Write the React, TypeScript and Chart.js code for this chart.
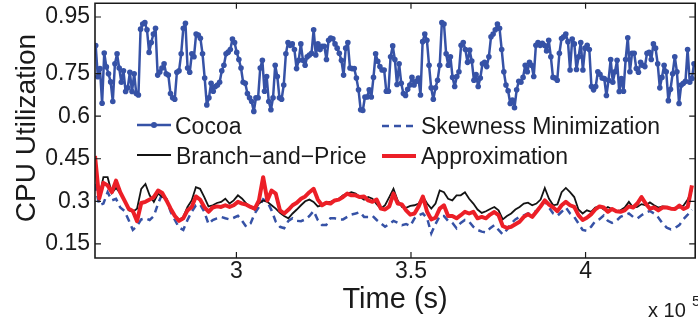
import React, { useEffect, useRef } from "react";
import { Chart, registerables } from "chart.js";

Chart.register(...registerables);

// ---- data ----
const COCOA_T0 = 259700; // seconds
const COCOA_DT = 612;
const COCOA = [
  0.849, 0.739, 0.768, 0.646, 0.823, 0.774, 0.75, 0.721, 0.652, 0.785,
  0.82, 0.77, 0.72, 0.76, 0.687, 0.7, 0.755, 0.687, 0.75, 0.68,
  0.675, 0.907, 0.925, 0.93, 0.905, 0.825, 0.86, 0.89, 0.91, 0.745,
  0.756, 0.77, 0.785, 0.75, 0.745, 0.68, 0.665, 0.66, 0.755, 0.76,
  0.82, 0.91, 0.928, 0.77, 0.755, 0.82, 0.81, 0.89, 0.886, 0.875,
  0.82, 0.735, 0.64, 0.665, 0.716, 0.688, 0.705, 0.71, 0.72, 0.76,
  0.78, 0.82, 0.826, 0.835, 0.872, 0.86, 0.825, 0.8, 0.77, 0.72,
  0.716, 0.68, 0.665, 0.652, 0.617, 0.665, 0.665, 0.77, 0.797, 0.688,
  0.74, 0.652, 0.623, 0.665, 0.78, 0.74, 0.665, 0.66, 0.71, 0.82,
  0.86, 0.85, 0.855, 0.835, 0.768,
  0.797, 0.855, 0.797, 0.78, 0.81, 0.816, 0.822, 0.905, 0.816, 0.855,
  0.835, 0.847, 0.847, 0.8, 0.868, 0.876, 0.873, 0.855, 0.84, 0.822,
  0.797, 0.745, 0.84, 0.86, 0.77, 0.768, 0.768, 0.735, 0.693, 0.623,
  0.62, 0.668, 0.668, 0.693, 0.668, 0.737, 0.82, 0.794, 0.775, 0.763,
  0.763, 0.688, 0.688, 0.81, 0.848, 0.8, 0.712, 0.785, 0.716, 0.68,
  0.673, 0.695, 0.71, 0.737, 0.71, 0.723, 0.735, 0.675, 0.863, 0.89,
  0.868, 0.78, 0.7, 0.66, 0.7, 0.727, 0.78, 0.93, 0.925, 0.82,
  0.78, 0.81, 0.737, 0.705, 0.74, 0.757, 0.85, 0.86, 0.835, 0.79,
  0.833, 0.795, 0.727, 0.747, 0.705, 0.735, 0.785, 0.79, 0.775, 0.81,
  0.88, 0.89, 0.905, 0.925,
  0.91, 0.835, 0.757, 0.71, 0.69, 0.645, 0.657, 0.63, 0.693, 0.723,
  0.72, 0.737, 0.78, 0.757, 0.79, 0.78, 0.74, 0.85, 0.86, 0.85,
  0.857, 0.85, 0.83, 0.868, 0.81, 0.737, 0.735, 0.727, 0.822, 0.874,
  0.88, 0.89, 0.863, 0.763, 0.872, 0.855, 0.765, 0.81, 0.86, 0.763,
  0.84, 0.85, 0.835, 0.705, 0.693, 0.705, 0.757, 0.748, 0.735, 0.733,
  0.673, 0.727, 0.8, 0.72, 0.757, 0.797, 0.687, 0.733, 0.688, 0.8,
  0.877, 0.757, 0.822, 0.822, 0.768, 0.755, 0.79, 0.78, 0.775, 0.822,
  0.825, 0.8, 0.855, 0.84, 0.785, 0.7, 0.737, 0.78, 0.757, 0.655,
  0.695, 0.75, 0.81, 0.757, 0.645, 0.71, 0.716, 0.723, 0.835, 0.72,
  0.733, 0.785,
];

const LOWER_T0 = 259500;
const LOWER_DT = 1204;
const APPROX = [
  0.46, 0.31, 0.365, 0.356, 0.332, 0.373, 0.332, 0.303, 0.274, 0.266,
  0.23, 0.294, 0.298, 0.306, 0.315, 0.338, 0.329, 0.303, 0.274, 0.248,
  0.231, 0.24, 0.268, 0.28, 0.317, 0.306, 0.28, 0.263, 0.278, 0.282,
  0.28, 0.286, 0.28, 0.286, 0.298, 0.292, 0.288, 0.28, 0.274, 0.303,
  0.385, 0.303, 0.338, 0.327, 0.268, 0.257, 0.27, 0.286,
  0.295, 0.309, 0.317, 0.332, 0.344, 0.306, 0.286, 0.295, 0.292, 0.303,
  0.306, 0.315, 0.327, 0.321, 0.321, 0.315, 0.317, 0.303, 0.298, 0.306,
  0.274, 0.271, 0.282, 0.327, 0.292, 0.289, 0.268, 0.253, 0.257, 0.282,
  0.317, 0.263, 0.236, 0.242, 0.274, 0.286, 0.248, 0.248, 0.24, 0.251,
  0.263, 0.257, 0.263, 0.24, 0.245, 0.24, 0.253, 0.262,
  0.251, 0.213, 0.206, 0.21, 0.219, 0.228, 0.245, 0.254, 0.245, 0.263,
  0.282, 0.303, 0.288, 0.278, 0.265, 0.286, 0.298, 0.286, 0.28, 0.251,
  0.234, 0.242, 0.254, 0.271, 0.282, 0.278, 0.263, 0.273, 0.265, 0.263,
  0.268, 0.282, 0.278, 0.292, 0.315, 0.292, 0.274, 0.278, 0.268, 0.278,
  0.278, 0.274, 0.273, 0.285, 0.273, 0.28, 0.356,
];
const BRANCH = [
  0.42, 0.315, 0.385, 0.385, 0.329, 0.347, 0.329, 0.303, 0.268, 0.263,
  0.274, 0.344, 0.361, 0.321, 0.298, 0.327, 0.315, 0.309, 0.268, 0.251,
  0.234, 0.245, 0.28, 0.303, 0.35, 0.344, 0.315, 0.282, 0.286, 0.294,
  0.298, 0.309, 0.292, 0.303, 0.321, 0.309, 0.292, 0.28, 0.27, 0.292,
  0.303, 0.298, 0.286, 0.274, 0.259, 0.248, 0.24, 0.257,
  0.271, 0.286, 0.3, 0.306, 0.298, 0.282, 0.286, 0.298, 0.298, 0.303,
  0.309, 0.321, 0.327, 0.332, 0.327, 0.315, 0.306, 0.315, 0.309, 0.29,
  0.274, 0.286, 0.315, 0.344, 0.303, 0.28, 0.277, 0.284, 0.286, 0.292,
  0.317, 0.292, 0.274, 0.292, 0.338, 0.332, 0.309, 0.303, 0.321, 0.321,
  0.332, 0.309, 0.292, 0.271, 0.259, 0.265, 0.273, 0.28,
  0.268, 0.236, 0.248, 0.257, 0.271, 0.28, 0.292, 0.295, 0.286, 0.292,
  0.306, 0.347, 0.309, 0.286, 0.289, 0.332, 0.347, 0.332, 0.315, 0.271,
  0.257, 0.268, 0.263, 0.278, 0.282, 0.271, 0.28, 0.272, 0.265, 0.268,
  0.278, 0.298, 0.278, 0.28, 0.29, 0.286, 0.296, 0.286, 0.278, 0.282,
  0.28, 0.274, 0.278, 0.278, 0.285, 0.306, 0.34,
];
const SKEW = [
  0.361, 0.286, 0.292, 0.332, 0.303, 0.309, 0.278, 0.266, 0.234, 0.199,
  0.213, 0.236, 0.24, 0.234, 0.248, 0.292, 0.327, 0.306, 0.263, 0.234,
  0.207, 0.199, 0.234, 0.263, 0.286, 0.289, 0.263, 0.22, 0.234, 0.24,
  0.245, 0.24, 0.236, 0.242, 0.249, 0.231, 0.21, 0.222, 0.257, 0.28,
  0.307, 0.298, 0.268, 0.228, 0.21, 0.205, 0.231, 0.24,
  0.231, 0.23, 0.236, 0.248, 0.266, 0.234, 0.216, 0.216, 0.24, 0.24,
  0.236, 0.236, 0.245, 0.253, 0.257, 0.262, 0.245, 0.245, 0.249, 0.234,
  0.222, 0.21, 0.22, 0.231, 0.224, 0.216, 0.22, 0.213, 0.24, 0.251,
  0.257, 0.24, 0.187, 0.22, 0.248, 0.248, 0.231, 0.224, 0.205, 0.224,
  0.234, 0.228, 0.21, 0.199, 0.193, 0.19, 0.205, 0.216,
  0.199, 0.183, 0.2, 0.222, 0.236, 0.245, 0.25, 0.257, 0.26, 0.265,
  0.282, 0.301, 0.278, 0.257, 0.249, 0.263, 0.278, 0.257, 0.245, 0.222,
  0.199, 0.196, 0.21, 0.23, 0.237, 0.25, 0.231, 0.224, 0.231, 0.245,
  0.251, 0.257, 0.245, 0.239, 0.251, 0.26, 0.266, 0.257, 0.243, 0.222,
  0.207, 0.201, 0.206, 0.216, 0.237, 0.253, 0.27,
];

const X_MIN = 259500;
const X_MAX = 431400;
const Y_MIN = 0.1;
const Y_MAX = 1.0;
const X_TICKS = [300000, 350000, 400000];
const X_TICK_LABELS = ["3", "3.5", "4"];
const Y_TICKS = [0.15, 0.3, 0.45, 0.6, 0.75, 0.95];
const Y_TICK_LABELS = ["0.15", "0.3", "0.45", "0.6", "0.75", "0.95"];
const SERIES_NAMES = ["Cocoa", "Skewness Minimization", "Branch\u2212and\u2212Price", "Approximation"];

const BLUE = "#3652a6";
const RED = "#ec1f27";
const BLACK = "#141414";
const FONT = '"Liberation Sans", Arial, Helvetica, sans-serif';

const toXY = (vals: number[], t0: number, dt: number) =>
  vals.map((y, i) => ({ x: t0 + i * dt, y }));

const decorPlugin = {
  id: "decor",
  afterDraw(chart: any) {
    const { ctx, chartArea: a, scales } = chart;
    const xs = scales.x;
    const ys = scales.y;
    ctx.save();
    // axes box
    ctx.strokeStyle = "#1a1a1a";
    ctx.lineWidth = 1.6;
    ctx.beginPath();
    ctx.rect(a.left, a.top + 0.5, a.right - a.left, a.bottom - a.top - 0.5);
    ctx.stroke();
    // inward ticks
    ctx.lineWidth = 1.2;
    const tl = 6;
    ctx.beginPath();
    X_TICKS.forEach((v) => {
      const px = xs.getPixelForValue(v);
      ctx.moveTo(px, a.bottom);
      ctx.lineTo(px, a.bottom - tl);
      ctx.moveTo(px, a.top);
      ctx.lineTo(px, a.top + tl);
    });
    Y_TICKS.forEach((v) => {
      const py = ys.getPixelForValue(v);
      ctx.moveTo(a.left, py);
      ctx.lineTo(a.left + tl, py);
      ctx.moveTo(a.right, py);
      ctx.lineTo(a.right - tl, py);
    });
    ctx.stroke();

    // axis titles
    ctx.fillStyle = "#1a1a1a";
    ctx.font = `29px ${FONT}`;
    ctx.textAlign = "center";
    ctx.textBaseline = "alphabetic";
    ctx.fillText("Time (s)", (a.left + a.right) / 2, 308);
    ctx.save();
    ctx.translate(35, 128);
    ctx.rotate(-Math.PI / 2);
    ctx.font = `28px ${FONT}`;
    ctx.fillText("CPU Utilization", 0, 0);
    ctx.restore();
    // exponent
    ctx.textAlign = "left";
    ctx.font = `20px ${FONT}`;
    ctx.fillText("x 10", 648, 317);
    ctx.font = `15px ${FONT}`;
    ctx.fillText("5", 692, 306);

    // legend
    ctx.font = `23px ${FONT}`;
    ctx.textBaseline = "alphabetic";
    const items = [
      { name: SERIES_NAMES[0], x0: 137, x1: 171, tx: 175, ly: 125, ty: 134, color: BLUE, w: 2.5, dash: [] as number[], marker: true },
      { name: SERIES_NAMES[1], x0: 382, x1: 417, tx: 421, ly: 126, ty: 134, color: BLUE, w: 2.5, dash: [7, 5], marker: false },
      { name: SERIES_NAMES[2], x0: 137, x1: 171, tx: 176, ly: 155, ty: 164, color: BLACK, w: 1.8, dash: [] as number[], marker: false },
      { name: SERIES_NAMES[3], x0: 382, x1: 416, tx: 421, ly: 156, ty: 164, color: RED, w: 4, dash: [] as number[], marker: false },
    ];
    items.forEach((it) => {
      ctx.strokeStyle = it.color;
      ctx.lineWidth = it.w;
      ctx.setLineDash(it.dash);
      ctx.beginPath();
      ctx.moveTo(it.x0, it.ly);
      ctx.lineTo(it.x1, it.ly);
      ctx.stroke();
      ctx.setLineDash([]);
      if (it.marker) {
        ctx.fillStyle = it.color;
        ctx.beginPath();
        ctx.arc((it.x0 + it.x1) / 2, it.ly, 3, 0, Math.PI * 2);
        ctx.fill();
      }
      ctx.fillStyle = "#1a1a1a";
      ctx.fillText(it.name, it.tx, it.ty);
    });
    ctx.restore();
  },
};

export default function App() {
  const ref = useRef<HTMLCanvasElement>(null);
  useEffect(() => {
    const canvas = ref.current;
    if (!canvas) return;
    const chart = new Chart(canvas, {
      type: "line",
      data: {
        datasets: [
          {
            label: SERIES_NAMES[3],
            data: toXY(APPROX, LOWER_T0, LOWER_DT),
            borderColor: RED,
            backgroundColor: RED,
            borderWidth: 4,
            borderJoinStyle: "round",
            pointRadius: 0,
            tension: 0,
            order: 0,
          },
          {
            label: SERIES_NAMES[2],
            data: toXY(BRANCH, LOWER_T0, LOWER_DT),
            borderColor: BLACK,
            backgroundColor: BLACK,
            borderWidth: 1.8,
            pointRadius: 0,
            tension: 0,
            order: 1,
          },
          {
            label: SERIES_NAMES[1],
            data: toXY(SKEW, LOWER_T0, LOWER_DT),
            borderColor: BLUE,
            backgroundColor: BLUE,
            borderWidth: 2.5,
            borderDash: [7, 5],
            pointRadius: 0,
            tension: 0,
            order: 2,
          },
          {
            label: SERIES_NAMES[0],
            data: toXY(COCOA, COCOA_T0, COCOA_DT),
            borderColor: BLUE,
            backgroundColor: BLUE,
            borderWidth: 2.5,
            borderJoinStyle: "round",
            pointRadius: 2.8,
            pointBorderWidth: 0,
            pointBackgroundColor: BLUE,
            pointHoverRadius: 0,
            tension: 0,
            order: 3,
          },
        ],
      },
      options: {
        responsive: false,
        devicePixelRatio: 1,
        animation: false,
        events: [],
        layout: { padding: 0 },
        plugins: { legend: { display: false }, tooltip: { enabled: false }, title: { display: false } },
        scales: {
          x: {
            type: "linear",
            min: X_MIN,
            max: X_MAX,
            grid: { display: false, drawTicks: false },
            border: { display: false },
            afterBuildTicks: (s: any) => {
              s.ticks = X_TICKS.map((v) => ({ value: v }));
            },
            afterFit: (s: any) => {
              s.height = 65;
              s.paddingLeft = 0;
              s.paddingRight = 0;
            },
            ticks: {
              autoSkip: false,
              maxRotation: 0,
              padding: 0,
              color: "#1a1a1a",
              font: { family: FONT, size: 23 },
              callback: (v: any) => {
                const i = X_TICKS.indexOf(Number(v));
                return i >= 0 ? X_TICK_LABELS[i] : "";
              },
            },
          },
          y: {
            type: "linear",
            min: Y_MIN,
            max: Y_MAX,
            grid: { display: false, drawTicks: false },
            border: { display: false },
            afterBuildTicks: (s: any) => {
              s.ticks = Y_TICKS.map((v) => ({ value: v }));
            },
            afterFit: (s: any) => {
              s.width = 95;
              s.paddingTop = 0;
              s.paddingBottom = 0;
            },
            ticks: {
              autoSkip: false,
              padding: 5,
              color: "#1a1a1a",
              font: { family: FONT, size: 23 },
              callback: (v: any) => {
                const i = Y_TICKS.findIndex((t) => Math.abs(t - Number(v)) < 1e-9);
                return i >= 0 ? Y_TICK_LABELS[i] : "";
              },
            },
          },
        },
      },
      plugins: [decorPlugin],
    } as any);
    return () => chart.destroy();
  }, []);
  return (
    <div style={{ position: "fixed", left: 0, top: 0, width: 698, height: 323, background: "#fff" }}>
      <canvas ref={ref} width={698} height={323} style={{ display: "block", width: 698, height: 323 }} />
    </div>
  );
}
